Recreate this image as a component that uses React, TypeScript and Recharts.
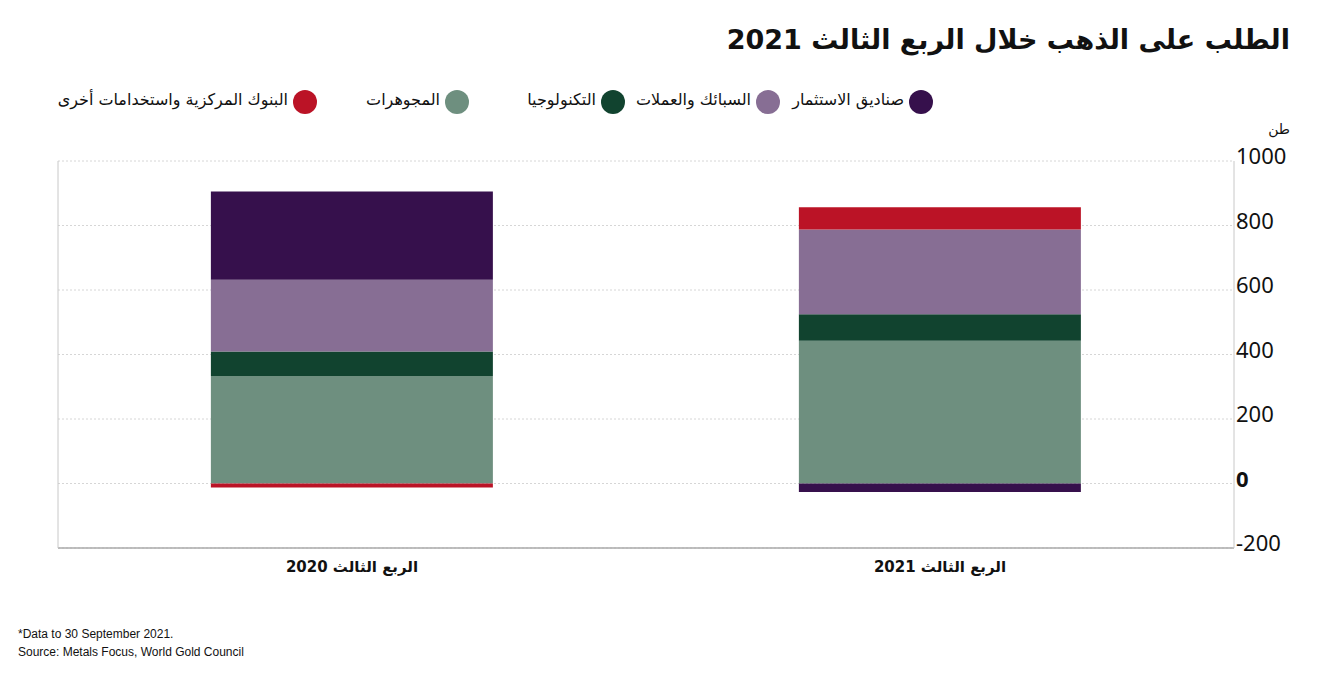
import { BarChart, Bar, XAxis, YAxis, CartesianGrid } from 'recharts';

const quarters = ['الربع الثالث 2020', 'الربع الثالث 2021'];
const jewellery = [333.0, 442.6];
const technology = [76.5, 82.5];
const barsCoins = [222.1, 262.2];
const etfs = [273.9, -26.5];
const centralBanks = [-12.1, 69.2];
const yTicks = [-200, 0, 200, 400, 600, 800, 1000];

const series = [
    { key: 'jewellery', name: 'المجوهرات', color: '#6e8f7f' },
    { key: 'technology', name: 'التكنولوجيا', color: '#11432f' },
    { key: 'barsCoins', name: 'السبائك والعملات', color: '#876e94' },
    { key: 'etfs', name: 'صناديق الاستثمار', color: '#36104c' },
    { key: 'centralBanks', name: 'البنوك المركزية واستخدامات أخرى', color: '#bb1326' },
];

// legend order as drawn, right to left, with circle centres
const legendItems = [
    { key: 'etfs', x: 921 },
    { key: 'barsCoins', x: 768 },
    { key: 'technology', x: 613 },
    { key: 'jewellery', x: 457 },
    { key: 'centralBanks', x: 305 },
];

const rows = quarters.map((q, i) => ({
    quarter: q,
    jewellery: jewellery[i],
    technology: technology[i],
    barsCoins: barsCoins[i],
    etfs: etfs[i],
    centralBanks: centralBanks[i],
}));

const arabicFont = '"DejaVu Sans", "Noto Sans", sans-serif';

function QuarterTick({ x, y, payload }: any) {
    return (
        <text
            x={x}
            y={y + 16}
            textAnchor="middle"
            fontFamily={arabicFont}
            fontWeight="bold"
            fontSize={15}
            fill="#111"
        >
            {payload.value}
        </text>
    );
}

function ValueTick({ x, y, payload }: any) {
    return (
        <text
            x={x - 6}
            y={y + 3}
            textAnchor="start"
            fontFamily='"Noto Sans", sans-serif'
            fontWeight={payload.value === 0 ? 'bold' : 'normal'}
            fontSize={22}
            fill="#111"
        >
            {payload.value}
        </text>
    );
}

export default function App() {
    return (
        <div style={{ position: 'fixed', left: 0, top: 0, width: 1332, height: 697, background: '#fff' }}>
            <div
                style={{
                    position: 'absolute',
                    right: 42,
                    top: 24,
                    direction: 'rtl',
                    fontFamily: arabicFont,
                    fontWeight: 'bold',
                    fontSize: 27,
                    color: '#111',
                    whiteSpace: 'nowrap',
                }}
            >
                الطلب على الذهب خلال الربع الثالث 2021
            </div>

            {legendItems.map((li) => {
                const s = series.find((d) => d.key === li.key)!;
                return (
                    <div
                        key={li.key}
                        style={{
                            position: 'absolute',
                            right: 1332 - (li.x + 12),
                            top: 90,
                            direction: 'rtl',
                            display: 'flex',
                            alignItems: 'center',
                            gap: 5,
                            fontFamily: arabicFont,
                            fontSize: 16,
                            color: '#111',
                            whiteSpace: 'nowrap',
                        }}
                    >
                        <span
                            style={{
                                width: 24,
                                height: 24,
                                borderRadius: '50%',
                                background: s.color,
                                display: 'inline-block',
                            }}
                        />
                        <span style={{ marginTop: -6 }}>{s.name}</span>
                    </div>
                );
            })}

            <div
                style={{
                    position: 'absolute',
                    right: 42,
                    top: 121,
                    fontFamily: arabicFont,
                    fontSize: 14,
                    color: '#111',
                }}
            >
                طن
            </div>

            <div style={{ position: 'absolute', left: 0, top: 0 }}>
                <BarChart
                    width={1332}
                    height={697}
                    data={rows}
                    stackOffset="sign"
                    barCategoryGap="26%"
                    margin={{ top: 161, right: 0, left: 57, bottom: 119 }}
                >
                    <CartesianGrid
                        vertical={false}
                        stroke="#d6d6d6"
                        strokeDasharray="2 2"
                    />
                    <XAxis
                        dataKey="quarter"
                        height={30}
                        axisLine={{ stroke: '#aaa', strokeWidth: 1.5 }}
                        tickLine={false}
                        tick={<QuarterTick />}
                        interval={0}
                    />
                    <YAxis
                        yAxisId="left"
                        orientation="left"
                        width={1}
                        domain={[-200, 1000]}
                        ticks={yTicks}
                        tick={false}
                        tickLine={false}
                        axisLine={{ stroke: '#c8c8c8' }}
                    />
                    <YAxis
                        orientation="right"
                        width={98}
                        domain={[-200, 1000]}
                        ticks={yTicks}
                        interval={0}
                        tickLine={false}
                        axisLine={{ stroke: '#c8c8c8' }}
                        tick={<ValueTick />}
                    />
                    {series.map((s) => (
                        <Bar
                            key={s.key}
                            dataKey={s.key}
                            name={s.name}
                            stackId="demand"
                            fill={s.color}
                            isAnimationActive={false}
                        />
                    ))}
                </BarChart>
            </div>

            <div
                style={{
                    position: 'absolute',
                    left: 18,
                    top: 625,
                    fontFamily: '"Liberation Sans", Arial, sans-serif',
                    fontSize: 12,
                    lineHeight: '18px',
                    color: '#111',
                }}
            >
                <div>*Data to 30 September 2021.</div>
                <div>Source: Metals Focus, World Gold Council</div>
            </div>
        </div>
    );
}
